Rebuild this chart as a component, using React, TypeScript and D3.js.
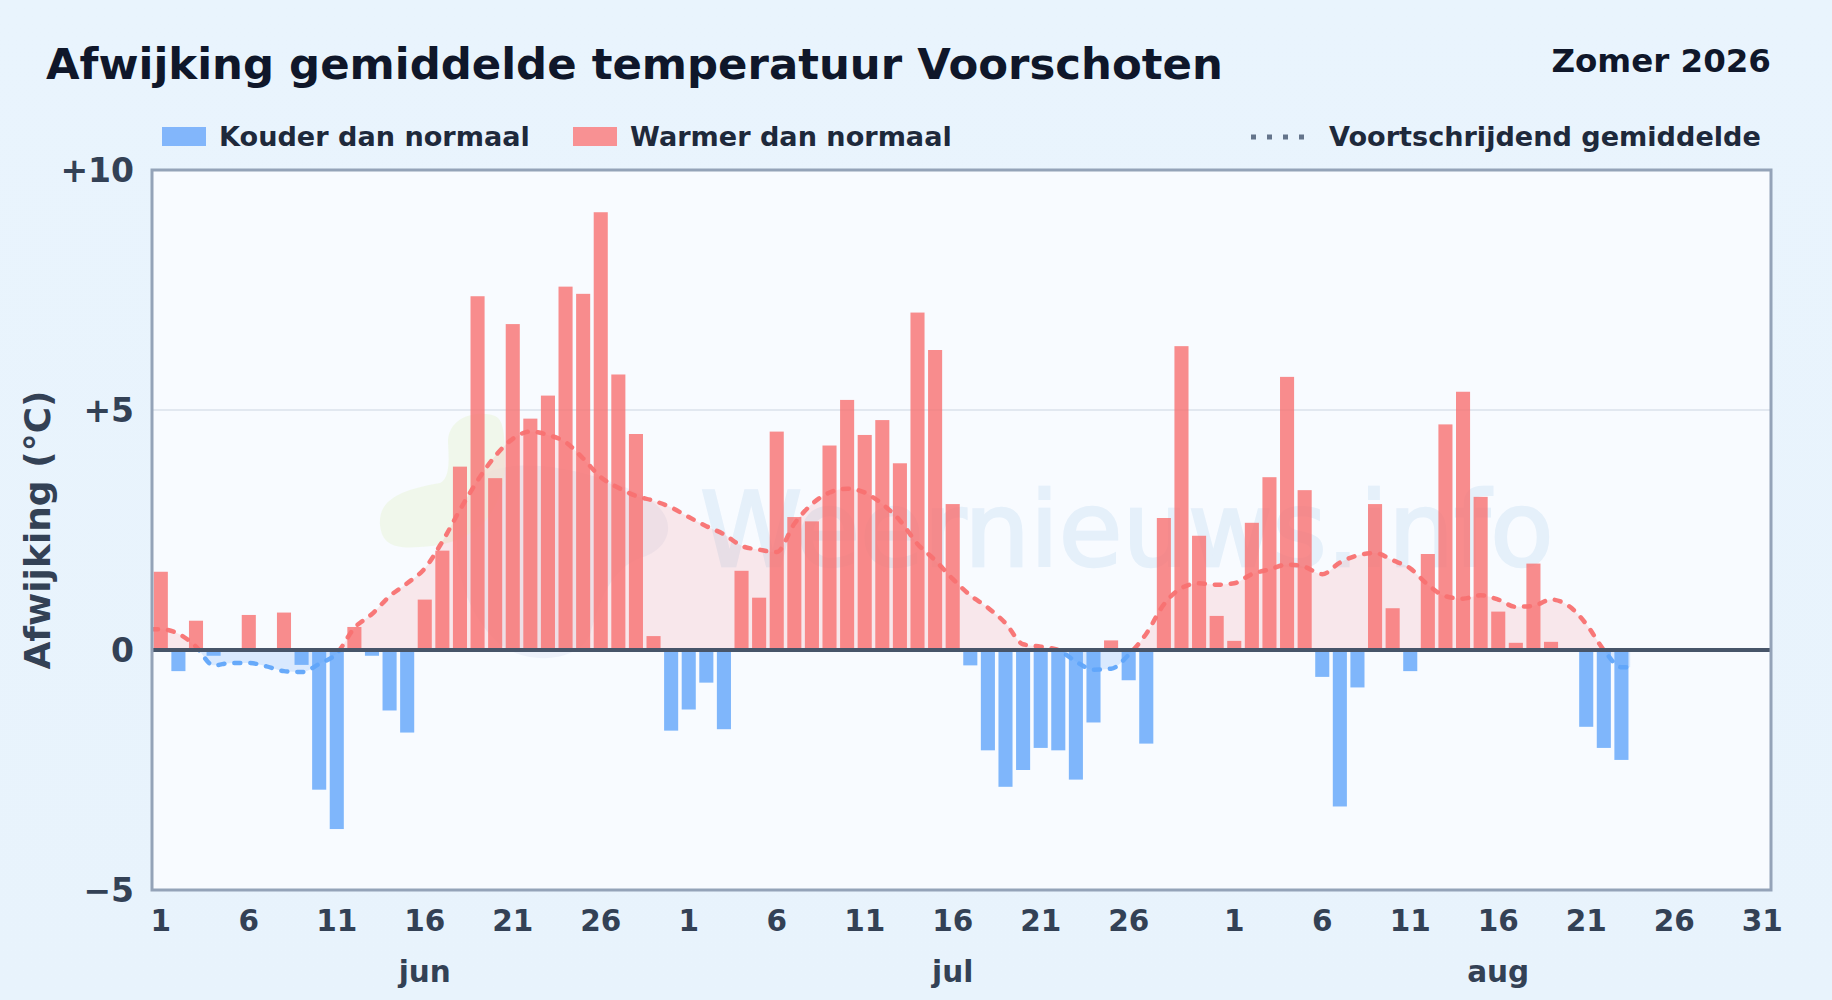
import React from 'react';
import * as d3 from 'd3';

const months = ['jun', 'jul', 'aug'];
const monthDays = [30, 31, 31];

const title = 'Afwijking gemiddelde temperatuur Voorschoten';
const season = 'Zomer 2026';
const yTicks = [10, 5, 0, -5];

// daily deviation in degrees, jun 1 .. aug 23 (rest of the summer has no data yet)
const junDeviation = [1.63, -0.44, 0.61, -0.12, 0, 0.73, 0, 0.78, -0.31, -2.91, -3.73, 0.48, -0.12, -1.26, -1.72, 1.05, 2.07, 3.82, 7.37, 3.58, 6.79, 4.82, 5.3, 7.57, 7.42, 9.12, 5.74, 4.5, 0.29, -1.68];
const julDeviation = [-1.24, -0.68, -1.65, 1.65, 1.09, 4.55, 2.77, 2.68, 4.26, 5.21, 4.48, 4.79, 3.89, 7.03, 6.25, 3.04, -0.32, -2.09, -2.85, -2.5, -2.04, -2.09, -2.7, -1.51, 0.2, -0.63, -1.95, 2.75, 6.33, 2.38, 0.71];
const augDeviation = [0.19, 2.65, 3.6, 5.69, 3.33, -0.56, -3.26, -0.78, 3.04, 0.87, -0.44, 2.0, 4.7, 5.38, 3.19, 0.8, 0.15, 1.8, 0.17, 0, -1.6, -2.04, -2.29];

// moving average per day
const junAverage = [0.43, 0.34, 0.07, -0.32, -0.27, -0.27, -0.34, -0.44, -0.46, -0.29, -0.07, 0.46, 0.75, 1.12, 1.39, 1.7, 2.26, 2.92, 3.53, 4.04, 4.4, 4.55, 4.48, 4.33, 3.99, 3.6, 3.38, 3.21, 3.11, 2.97];
const julAverage = [2.77, 2.58, 2.41, 2.17, 2.09, 2.04, 2.63, 3.04, 3.28, 3.36, 3.28, 3.04, 2.7, 2.21, 1.87, 1.48, 1.14, 0.88, 0.56, 0.12, 0.07, 0, -0.24, -0.41, -0.39, -0.1, 0.34, 0.95, 1.29, 1.39, 1.36];
const augAverage = [1.39, 1.58, 1.68, 1.78, 1.73, 1.58, 1.82, 1.97, 2.02, 1.87, 1.7, 1.36, 1.12, 1.07, 1.14, 1.05, 0.9, 0.92, 1.05, 0.92, 0.54, 0, -0.36];

const deviation = [...junDeviation, ...julDeviation, ...augDeviation];
const average = [...junAverage, ...julAverage, ...augAverage];
const dayLabels = monthDays.flatMap(n => d3.range(1, n + 1));
const days = d3.range(dayLabels.length);

const font = '"DejaVu Sans", sans-serif';
const colors = {
  cold: '#82b6fb',
  warm: '#f89193',
  coldLine: '#60a5fa',
  warmLine: '#f87171',
  text: '#334155',
  dark: '#0f172a',
  legend: '#1e293b',
  frame: '#94a3b8',
};

const margin = { top: 170, right: 61, bottom: 110, left: 152 };
const width = 1832;
const height = 1000;

export default function App() {
  const x = d3.scaleBand<number>()
    .domain(days)
    .range([margin.left, width - margin.right])
    .paddingInner(0.2)
    .paddingOuter(0.1);
  const y = d3.scaleLinear()
    .domain([-5, 10])
    .range([height - margin.bottom, margin.top]);
  const cx = (i: number) => x(i)! + x.bandwidth() / 2;
  const plotW = width - margin.right - margin.left;

  // the line runs half a day past the first and last bar, flat
  const first: [number, number] = [cx(0) - x.step() / 2, average[0]];
  const last: [number, number] = [cx(average.length - 1) + x.step() / 2, average[average.length - 1]];
  const points: [number, number][] = [first, ...average.map((v, i): [number, number] => [cx(i), v]), last];

  const line = d3.line<[number, number]>()
    .x(d => d[0])
    .y(d => y(d[1]))
    .curve(d3.curveMonotoneX);
  const area = d3.area<[number, number]>()
    .x(d => d[0])
    .y0(y(0))
    .y1(d => y(d[1]))
    .curve(d3.curveMonotoneX);

  // month label sits under day 16 of the month
  let offset = 0;
  const monthLabels = months.map((m, k) => {
    const at = offset + 15;
    offset += monthDays[k];
    return { m, at };
  });

  // jul 31 would run into aug 1, so it has no label
  const tickDays = days.filter(i => (dayLabels[i] - 1) % 5 === 0 && i !== 60);

  return (
    <svg width={width} height={height} style={{ position: 'absolute', left: 0, top: 0 }} fontFamily={font}>
      <defs>
        <linearGradient id="page" x1="0" y1="0" x2="0" y2="1">
          <stop offset="0" stopColor="#e9f4fd" />
          <stop offset="1" stopColor="#e8f3fc" />
        </linearGradient>
        <clipPath id="above"><rect x={margin.left} y={margin.top} width={plotW} height={y(0) - margin.top} /></clipPath>
        <clipPath id="below"><rect x={margin.left} y={y(0)} width={plotW} height={y(-5) - y(0)} /></clipPath>
      </defs>
      <rect width={width} height={height} fill="url(#page)" />

      <text x={46} y={79} fontSize={43.4} fontWeight={700} fill={colors.dark}>{title}</text>
      <text x={1771} y={72} fontSize={32.5} fontWeight={700} fill={colors.dark} textAnchor="end">{season}</text>

      {/* legend */}
      <rect x={162} y={127} width={44} height={19} fill={colors.cold} />
      <text x={219} y={146} fontSize={27.1} fontWeight={700} fill={colors.legend}>Kouder dan normaal</text>
      <rect x={573} y={127} width={44} height={19} fill={colors.warm} />
      <text x={630} y={146} fontSize={27.1} fontWeight={700} fill={colors.legend}>Warmer dan normaal</text>
      <line x1={1251} x2={1311} y1={137} y2={137} stroke="#64748b" strokeWidth={5} strokeDasharray="5 11" />
      <text x={1329} y={146} fontSize={27.1} fontWeight={700} fill={colors.legend}>Voortschrijdend gemiddelde</text>

      {/* plot */}
      <rect x={margin.left} y={margin.top} width={plotW} height={y(-5) - margin.top} fill="#f8fbff" />

      {/* watermark */}
      <g>
        <path d="M 493 470 C 540 455 620 480 650 500 C 680 520 670 550 640 558 C 610 570 600 600 590 635 C 575 665 520 665 495 640 C 465 610 450 560 460 520 C 465 495 475 478 493 470 Z" fill="#e4eaf6" opacity={0.55} />
        <path d="M 380 525 C 378 500 400 490 440 483 C 452 478 448 450 448 440 C 450 415 480 410 495 416 C 505 420 505 440 505 470 C 500 520 470 545 420 547 C 395 549 382 545 380 525 Z" fill="#eef6e6" opacity={0.8} />
        <text x={700} y={566} fontSize={103.5} fontWeight={400} fill="#e3effa" stroke="#e3effa" strokeWidth={2.5} opacity={0.9}>Weernieuws.info</text>
      </g>

      <line x1={margin.left} x2={width - margin.right} y1={y(5)} y2={y(5)} stroke="#e2e8f0" strokeWidth={2} />

      <path d={area(points)!} fill="#f87171" fillOpacity={0.14} clipPath="url(#above)" />
      <path d={area(points)!} fill="#60a5fa" fillOpacity={0.2} clipPath="url(#below)" />

      {days.map(i => {
        const v = deviation[i];
        if (v === undefined || v === 0) return null;
        return (
          <rect
            key={i}
            x={x(i)}
            width={x.bandwidth()}
            y={Math.min(y(v), y(0))}
            height={Math.abs(y(v) - y(0))}
            fill={v > 0 ? '#f87171' : '#60a5fa'}
            fillOpacity={0.8}
          />
        );
      })}

      <path d={line(points)!} fill="none" stroke={colors.warmLine} strokeWidth={4.5} strokeLinecap="round" strokeDasharray="6 10" clipPath="url(#above)" opacity={0.95} />
      <path d={line(points)!} fill="none" stroke={colors.coldLine} strokeWidth={4.5} strokeLinecap="round" strokeDasharray="6 10" clipPath="url(#below)" opacity={0.95} />

      <line x1={margin.left} x2={width - margin.right} y1={y(0)} y2={y(0)} stroke="#475569" strokeWidth={4} />
      <rect x={margin.left} y={margin.top} width={plotW} height={y(-5) - margin.top} fill="none" stroke={colors.frame} strokeWidth={3} />

      {/* axes */}
      {yTicks.map(t => (
        <text key={t} x={134} y={y(t) + 12} fontSize={33} fontWeight={700} fill={colors.text} textAnchor="end">
          {t > 0 ? `+${t}` : t < 0 ? `\u2212${-t}` : '0'}
        </text>
      ))}
      <text
        transform={`translate(50,530) rotate(-90)`}
        fontSize={36}
        fontWeight={700}
        fill={colors.text}
        textAnchor="middle"
      >
        Afwijking (°C)
      </text>
      {tickDays.map(i => (
        <text key={i} x={cx(i)} y={931} fontSize={29.5} fontWeight={700} fill={colors.text} textAnchor="middle">
          {dayLabels[i]}
        </text>
      ))}
      {monthLabels.map(({ m, at }) => (
        <text key={m} x={cx(at)} y={982} fontSize={29.5} fontWeight={700} fill={colors.text} textAnchor="middle">{m}</text>
      ))}
    </svg>
  );
}
